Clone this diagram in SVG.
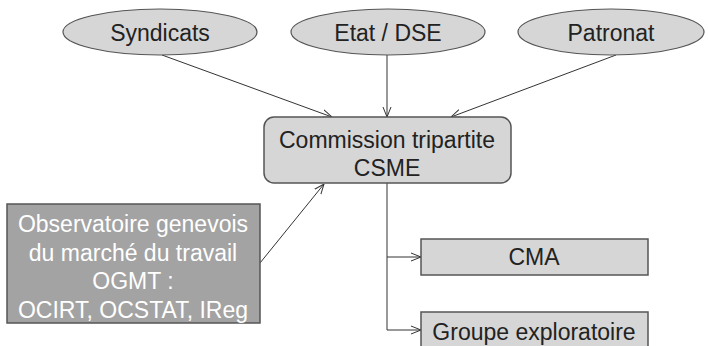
<svg xmlns="http://www.w3.org/2000/svg" width="708" height="346" viewBox="0 0 708 346">
<defs>
<marker id="arr" viewBox="0 0 10 10" refX="10" refY="5" markerWidth="10" markerHeight="10" markerUnits="userSpaceOnUse" orient="auto">
<polyline points="0,1 10,5 0,9" fill="none" stroke="#333" stroke-width="1"/>
</marker>
<style>
.ell{fill:#d6d6d6;stroke:#555;stroke-width:1.2}
.box{fill:#d6d6d6;stroke:#555;stroke-width:1.5}
.dark{fill:#a3a3a3;stroke:#555;stroke-width:1.5}
text{font-family:'Liberation Sans',Arial,sans-serif;font-size:23px;fill:#222;text-anchor:middle}
.w{fill:#fff}
.c{fill:none;stroke:#333;stroke-width:1}
</style>
</defs>
<rect width="708" height="346" fill="#fff"/>
<g id="connectors">
<line class="c" x1="162" y1="55" x2="332" y2="117" marker-end="url(#arr)"/>
<line class="c" x1="387" y1="55" x2="387" y2="117" marker-end="url(#arr)"/>
<line class="c" x1="616" y1="55" x2="451" y2="117" marker-end="url(#arr)"/>
<line class="c" x1="260" y1="263" x2="324" y2="184" marker-end="url(#arr)"/>
<polyline class="c" points="387,183 387,257 421,257" marker-end="url(#arr)"/>
<polyline class="c" points="387,257 387,330 421,330" marker-end="url(#arr)"/>
</g>
<g id="syndicats">
<ellipse class="ell" cx="160" cy="32" rx="97" ry="23"/>
<text x="160" y="41">Syndicats</text>
</g>
<g id="etat">
<ellipse class="ell" cx="388" cy="32" rx="97" ry="23"/>
<text x="388" y="41">Etat / DSE</text>
</g>
<g id="patronat">
<ellipse class="ell" cx="611" cy="32" rx="93" ry="23"/>
<text x="611" y="41">Patronat</text>
</g>
<g id="commission">
<rect class="box" x="264" y="117" width="247" height="66" rx="10"/>
<text x="387" y="148">Commission tripartite</text>
<text x="387" y="176">CSME</text>
</g>
<g id="ogmt">
<rect class="dark" x="7" y="204" width="253" height="119"/>
<text class="w" x="133" y="232">Observatoire genevois</text>
<text class="w" x="133" y="261">du marché du travail</text>
<text class="w" x="133" y="289">OGMT :</text>
<text class="w" x="133" y="318">OCIRT, OCSTAT, IReg</text>
</g>
<g id="cma">
<rect class="box" x="421" y="239" width="227" height="36"/>
<text x="534" y="265">CMA</text>
</g>
<g id="groupe">
<rect class="box" x="421" y="312" width="227" height="40"/>
<text x="534" y="340">Groupe exploratoire</text>
</g>
</svg>
